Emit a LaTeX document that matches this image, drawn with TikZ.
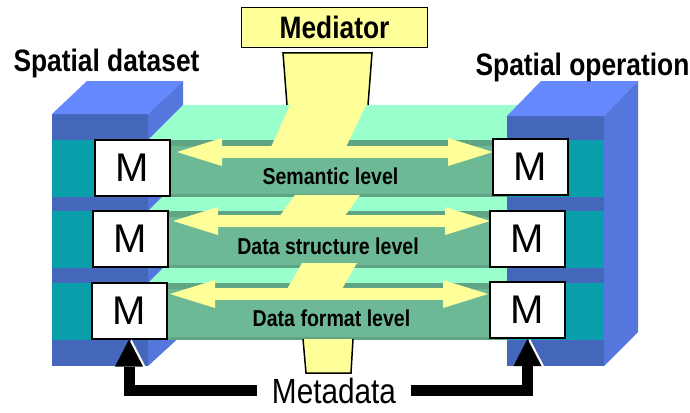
\documentclass[tikz,border=0pt]{standalone}
\usepackage{fontspec}
\setmainfont{Liberation Sans}
\newfontfamily\narrowsans[FakeStretch=0.85]{Liberation Sans}
\usetikzlibrary{arrows.meta}

\definecolor{cubefront}{HTML}{4466BB}
\definecolor{cubetop}{HTML}{6688FF}
\definecolor{cubeside}{HTML}{5577DD}
\definecolor{tealband}{HTML}{089FAA}
\definecolor{slabtop}{HTML}{99FFCC}
\definecolor{slabfront}{HTML}{6DB996}
\definecolor{slabedge}{HTML}{5FA584}
\definecolor{medyellow}{HTML}{FFFF99}

\tikzset{
  mbox/.style={draw=black, line width=2pt, fill=white, minimum width=75pt,
    minimum height=56pt, inner sep=0pt, font=\fontsize{40}{44}\selectfont},
  toplabel/.style={anchor=base, font=\narrowsans\bfseries\fontsize{31}{36}\selectfont},
  levellabel/.style={anchor=base, font=\narrowsans\bfseries\fontsize{23}{27}\selectfont},
  levelarrow/.style={draw=medyellow, line width=12pt,
    {Triangle[length=45pt,width=28pt,line width=0pt]}-{Triangle[length=45pt,width=28pt,line width=0pt]}},
  metaarrow/.style={draw=black, line width=11pt,
    -{Triangle[length=27pt,width=28pt,line width=0pt]}},
}

\begin{document}
\begin{tikzpicture}[x=1pt,y=-1pt]
    \useasboundingbox (0,0) rectangle (690,412);

    % spatial dataset block
    \fill[cubefront] (52,114) rectangle (148,366);
    \fill[cubetop] (52,114) -- (148,114) -- (183,81) -- (87,81) -- cycle;
    \fill[cubeside] (148,114) -- (183,81) -- (183,334) -- (148,366) -- cycle;

    % the three levels, lowest first
    \foreach \ft in {283,211,140} {
        \fill[slabtop] (148,\ft) -- (560,\ft) -- (595,\ft-35) -- (183,\ft-35) -- cycle;
        \fill[slabfront] (148,\ft) rectangle (560,\ft+57);
        \fill[slabedge] (148,\ft) rectangle (560,\ft+6);
        \fill[slabedge] (148,\ft+54) rectangle (560,\ft+57);
    }

    % spatial operation block
    \fill[cubefront] (507,116) rectangle (604,366);
    \fill[cubetop] (507,116) -- (604,116) -- (638,81) -- (541,81) -- cycle;
    \fill[cubeside] (604,116) -- (638,81) -- (638,332) -- (604,366) -- cycle;

    \foreach \ft in {140,211,283} {
        \fill[tealband] (52,\ft) rectangle (148,\ft+57);
        \fill[tealband] (507,\ft) rectangle (604,\ft+57);
    }

    % mediator column
    \fill[medyellow] (290,105) -- (366,105) -- (346,147) -- (271,147) -- cycle;
    \fill[medyellow] (295,195) -- (360,195) -- (344,217) -- (279,217) -- cycle;
    \fill[medyellow] (302,263) -- (357,263) -- (342,289) -- (287,289) -- cycle;
    \filldraw[fill=medyellow, line width=1.5pt] (287,105) -- (283,53) -- (372,53) -- (368,105);
    \filldraw[fill=medyellow, line width=1.5pt] (303,339) -- (306,373) -- (351,373) -- (353,339);

    \coordinate (s1w) at (177,152);
    \coordinate (s1e) at (493,152);
    \coordinate (s2w) at (173,221);
    \coordinate (s2e) at (490,221);
    \coordinate (s3w) at (170,294);
    \coordinate (s3e) at (488,294);
    \draw[levelarrow] (s1w) -- (s1e);
    \draw[levelarrow] (s2w) -- (s2e);
    \draw[levelarrow] (s3w) -- (s3e);

    \node[levellabel] (semantic) at (330.5,184) {Semantic level};
    \node[levellabel] (structure) at (328,254) {Data structure level};
    \node[levellabel] (format) at (331.5,326) {Data format level};

    \node[mbox] (ml1) at (132.5,167.5) {M};
    \node[mbox] (ml2) at (130,238.5) {M};
    \node[mbox] (ml3) at (129,310.5) {M};
    \node[mbox] (mr1) at (530,167) {M};
    \node[mbox] (mr2) at (527.5,238.5) {M};
    \node[mbox] (mr3) at (527.5,310) {M};

    \node[anchor=base, inner xsep=15pt, inner ysep=1pt, font=\narrowsans\fontsize{35}{40}\selectfont] (meta) at (334,403) {Metadata};
    \draw[metaarrow, draw=white, transform canvas={xshift=2.5pt}] (meta.west) -| (ml3.south);
    \draw[metaarrow, draw=white, transform canvas={xshift=2.5pt}] (meta.east) -| (mr3.south);
    \draw[metaarrow] (meta.west) -| (ml3.south);
    \draw[metaarrow] (meta.east) -| (mr3.south);

    \node[toplabel] (dataset) at (106.5,71.5) {Spatial dataset};
    \node[toplabel] (operation) at (582.5,75.5) {Spatial operation};
    \node[draw=black, line width=1.5pt, fill=medyellow, minimum width=186pt, minimum height=40pt,
        font=\narrowsans\bfseries\fontsize{31}{36}\selectfont] (mediator) at (334.5,27.5) {Mediator};

\end{tikzpicture}
\end{document}
